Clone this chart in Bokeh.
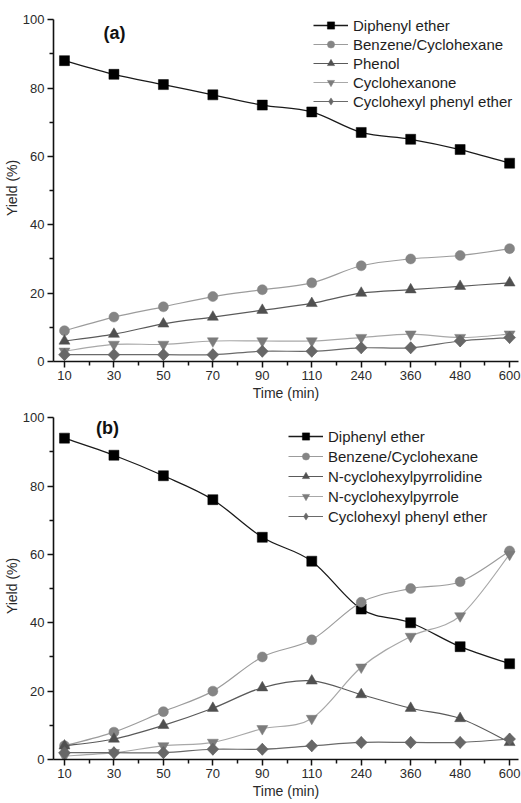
import math
from bokeh.plotting import figure
from bokeh.models import Range1d, FixedTicker, Legend, LegendItem, Label
from bokeh.layouts import column
from bokeh.embed import file_html
from bokeh.resources import INLINE

# ---------------- data ----------------
time_labels = ["10", "30", "50", "70", "90", "110", "240", "360", "480", "600"]

a_names = ["Diphenyl ether", "Benzene/Cyclohexane", "Phenol", "Cyclohexanone",
           "Cyclohexyl phenyl ether"]
a_diphenyl = [88, 84, 81, 78, 75, 73, 67, 65, 62, 58]
a_benzene = [9, 13, 16, 19, 21, 23, 28, 30, 31, 33]
a_phenol = [6, 8, 11, 13, 15, 17, 20, 21, 22, 23]
a_cyclohexanone = [3, 5, 5, 6, 6, 6, 7, 8, 7, 8]
a_cpe = [2, 2, 2, 2, 3, 3, 4, 4, 6, 7]

b_names = ["Diphenyl ether", "Benzene/Cyclohexane", "N-cyclohexylpyrrolidine",
           "N-cyclohexylpyrrole", "Cyclohexyl phenyl ether"]
b_diphenyl = [94, 89, 83, 76, 65, 58, 44, 40, 33, 28]
b_benzene = [4, 8, 14, 20, 30, 35, 46, 50, 52, 61]
b_pyrrolidine = [4, 6, 10, 15, 21, 23, 19, 15, 12, 5]
b_pyrrole = [1, 2, 4, 5, 9, 12, 27, 36, 42, 60]
b_cpe = [2, 2, 2, 3, 3, 4, 5, 5, 5, 6]

y_ticks = [0, 20, 40, 60, 80, 100]

# ---------------- styles ----------------
FONT = "Liberation Sans"
styles = [
    dict(marker="square", size=10, rotated=False, fill="#000000", line="#1a1a1a", lw=1.3),
    dict(marker="circle", size=10, rotated=False, fill="#858585", line="#9c9c9c", lw=1.2),
    dict(marker="triangle", size=11, rotated=False, fill="#505050", line="#5a5a5a", lw=1.2),
    dict(marker="inverted_triangle", size=11, rotated=False, fill="#7c7c7c", line="#a8a8a8", lw=1.2),
    dict(marker="diamond", size=12, rotated=True, fill="#676767", line="#6a6a6a", lw=1.2),
]


def smooth_segments(xs, ys):
    """Cubic Bezier pieces (Catmull-Rom) joining consecutive data points."""
    n = len(xs)
    out = {k: [] for k in ("x0", "y0", "x1", "y1", "cx0", "cy0", "cx1", "cy1")}
    for i in range(n - 1):
        ip = max(i - 1, 0)
        inn = min(i + 2, n - 1)
        out["x0"].append(xs[i]); out["y0"].append(ys[i])
        out["x1"].append(xs[i + 1]); out["y1"].append(ys[i + 1])
        out["cx0"].append(xs[i] + (xs[i + 1] - xs[ip]) / 6.0)
        out["cy0"].append(ys[i] + (ys[i + 1] - ys[ip]) / 6.0)
        out["cx1"].append(xs[i + 1] - (xs[inn] - xs[i]) / 6.0)
        out["cy1"].append(ys[i + 1] - (ys[inn] - ys[i]) / 6.0)
    return out


def make_panel(series, names, tag, height, border_top, border_bottom,
               tag_xy, legend_loc, legend_spacing):
    xs = list(range(len(time_labels)))
    p = figure(width=521, height=height, output_backend="svg", toolbar_location=None,
               x_range=Range1d(-0.222, 9.18), y_range=Range1d(0, 101.5),
               min_border_left=52, min_border_right=3,
               min_border_top=border_top, min_border_bottom=border_bottom)
    p.outline_line_color = None
    p.xgrid.visible = False
    p.ygrid.visible = False
    p.background_fill_color = "white"
    p.border_fill_color = "white"

    items = []
    for ys, name, st in zip(series, names, styles):
        seg = smooth_segments(xs, ys)
        r_line = p.bezier(line_color=st["line"], line_width=st["lw"], **seg)
        r_mark = p.scatter(xs, ys, marker=st["marker"], size=st["size"],
                           fill_color=st["fill"], line_color=st["fill"], line_width=0.5)
        if st["rotated"]:
            # wider diamond: a square turned by 45 degrees drawn over the same points
            p.scatter(xs, ys, marker="square", size=st["size"] / math.sqrt(2),
                      angle=math.pi / 4, fill_color=st["fill"],
                      line_color=st["fill"], line_width=0.5)
        items.append(LegendItem(label=name, renderers=[r_line, r_mark]))

    legend = Legend(items=items, location=legend_loc, padding=0, margin=0,
                    spacing=legend_spacing, glyph_width=35, glyph_height=18,
                    label_height=18, label_standoff=5,
                    label_text_font=FONT, label_text_font_size="15px",
                    label_text_color="#1e1e1e",
                    background_fill_alpha=0, border_line_color=None)
    p.add_layout(legend)

    p.xaxis.ticker = FixedTicker(ticks=xs, minor_ticks=[x + 0.5 for x in xs[:-1]])
    p.xaxis.major_label_overrides = {x: lbl for x, lbl in zip(xs, time_labels)}
    p.yaxis.ticker = FixedTicker(ticks=y_ticks,
                                 minor_ticks=[t + 10 for t in y_ticks[:-1]])
    p.yaxis.bounds = (y_ticks[0], y_ticks[-1])
    p.xaxis.axis_label = "Time (min)"
    p.yaxis.axis_label = "Yield (%)"
    for ax in (p.xaxis, p.yaxis):
        ax.axis_line_width = 1.6
        ax.axis_line_color = "#111111"
        ax.major_tick_line_width = 1.5
        ax.minor_tick_line_width = 1.5
        ax.major_tick_line_color = "#111111"
        ax.minor_tick_line_color = "#111111"
        ax.major_tick_out = 6
        ax.major_tick_in = 0
        ax.minor_tick_out = 4
        ax.minor_tick_in = 0
        ax.major_label_text_font = FONT
        ax.major_label_text_font_size = "13px"
        ax.major_label_text_color = "#2a2a2a"
        ax.axis_label_text_font = FONT
        ax.axis_label_text_font_size = "14px"
        ax.axis_label_text_font_style = "normal"
        ax.axis_label_text_color = "#2a2a2a"
    p.xaxis.major_label_standoff = 3
    p.xaxis.axis_label_standoff = 2
    p.yaxis.major_label_standoff = 3
    p.yaxis.axis_label_standoff = 0

    p.add_layout(Label(x=tag_xy[0], y=tag_xy[1], text=tag, text_font=FONT,
                       text_font_size="18px", text_font_style="bold",
                       text_align="center", text_baseline="middle",
                       text_color="#111111"))
    return p


p1 = make_panel([a_diphenyl, a_benzene, a_phenol, a_cyclohexanone, a_cpe], a_names,
                "(a)", height=404, border_top=14, border_bottom=43,
                tag_xy=(1.01, 96.2), legend_loc=(260, 251), legend_spacing=1)
p2 = make_panel([b_diphenyl, b_benzene, b_pyrrolidine, b_pyrrole, b_cpe], b_names,
                "(b)", height=397, border_top=8, border_bottom=42,
                tag_xy=(0.87, 97.1), legend_loc=(235, 234), legend_spacing=2)

layout = column(p1, p2, spacing=0)
open("out.html", "w").write(file_html(layout, INLINE))
